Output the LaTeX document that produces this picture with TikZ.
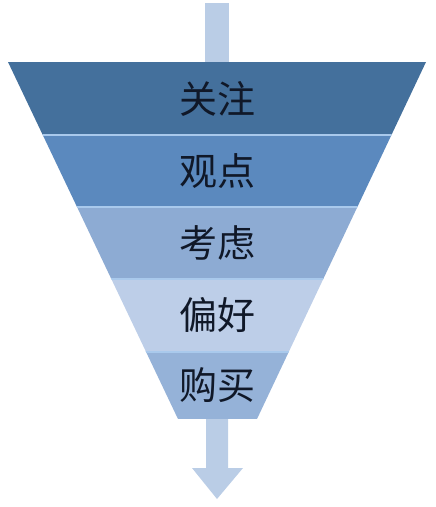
\documentclass[tikz,border=0pt]{standalone}
\usepackage{fontspec}
\newfontfamily\cjk{Noto Sans CJK SC}
\definecolor{bandA}{HTML}{44709C}
\definecolor{bandB}{HTML}{5B89BE}
\definecolor{bandC}{HTML}{8DABD3}
\definecolor{bandD}{HTML}{BDCEE8}
\definecolor{bandE}{HTML}{95B2D8}
\definecolor{flowblue}{HTML}{BACDE6}
\definecolor{sepblue}{HTML}{A9C9EC}
\definecolor{txtnavy}{HTML}{101828}
\begin{document}
\begin{tikzpicture}[x=1pt,y=-1pt, font=\cjk\fontsize{38}{44}\selectfont, line join=round]
			\useasboundingbox (0,0) rectangle (436,507);
			\fill[flowblue] (205,3) rectangle (229,62);
			\begin{scope}
				\clip (8,62)--(426,62)--(257,419)--(178,419)--cycle;
				\foreach \ytop/\ybot/\col in {62/135/bandA,135/207/bandB,207/279/bandC,279/352/bandD,352/419/bandE}
					\fill[\col] (0,\ytop) rectangle (436,\ybot);
				\foreach \y in {135,207,279,352}
					\draw[sepblue,line width=1.2pt] (0,\y)--(436,\y);
			\end{scope}
			\foreach \y/\name/\txt in {98.5/guanzhu/关注,171/guandian/观点,243/kaolv/考虑,315.5/pianhao/偏好,385.5/goumai/购买}
				\node[text=txtnavy,inner sep=0pt] (\name) at (217.5,\y) {\txt};
			\fill[flowblue] (206,419)--(228,419)--(228,468)--(243,468)--(217,499)--(192,468)--(206,468)--cycle;
	\end{tikzpicture}
\end{document}
